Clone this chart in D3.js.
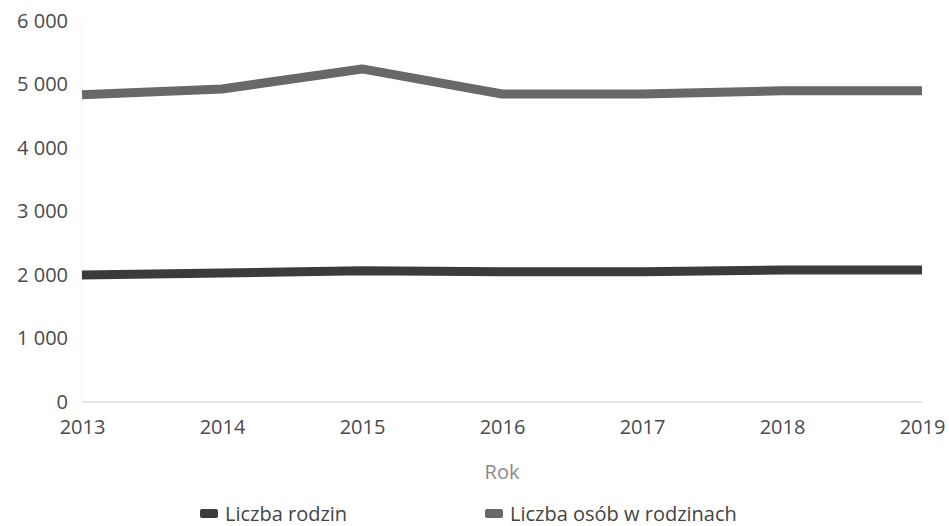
<!DOCTYPE html>
<html><head><meta charset="utf-8">
<script src="https://cdn.jsdelivr.net/npm/d3@7"></script>
<style>body{margin:0;background:#fff;} svg{display:block;font-family:"Open Sans",sans-serif;}</style>
</head><body><svg id="c" width="949" height="526"></svg>
<script>
const years = [2013, 2014, 2015, 2016, 2017, 2018, 2019];
const rodziny = [2000, 2030, 2065, 2050, 2050, 2080, 2080];
const osoby = [4840, 4930, 5245, 4850, 4850, 4900, 4900];
const yTicks = [0, 1000, 2000, 3000, 4000, 5000, 6000];
const seriesNames = ["Liczba rodzin", "Liczba osób w rodzinach"];
const colors = ["#3b3b3b", "#686868"];

const svg = d3.select("#c");
const x = d3.scalePoint().domain(years).range([82, 922]);
const y = d3.scaleLinear().domain([0, 6000]).range([402, 21]);
const fmt = v => d3.format(",")(v).replace(/,/g, " ");

// baseline
svg.append("line").attr("x1", 82).attr("x2", 922).attr("y1", y(0)).attr("y2", y(0))
  .attr("stroke", "#e6e6e6").attr("stroke-width", 2);
svg.append("line").attr("x1", 82).attr("x2", 82).attr("y1", y(0)).attr("y2", y(6000))
  .attr("stroke", "#f3f3f3").attr("stroke-width", 1);

const yAxis = svg.append("g").attr("transform", "translate(68,0)")
  .call(d3.axisLeft(y).tickValues(yTicks).tickFormat(fmt).tickSize(0).tickPadding(0));
yAxis.select(".domain").remove();
yAxis.selectAll("text").attr("font-size", 20).attr("fill", "#4a4a4a").attr("font-family", "Open Sans");

const xAxis = svg.append("g").attr("transform", "translate(0,420)")
  .call(d3.axisBottom(x).tickSize(0).tickPadding(0).tickFormat(d3.format("d")));
xAxis.select(".domain").remove();
xAxis.selectAll("text").attr("font-size", 20).attr("fill", "#4a4a4a").attr("font-family", "Open Sans");

svg.append("text").attr("x", 502).attr("y", 479).attr("text-anchor", "middle")
  .attr("font-size", 20).attr("fill", "#8a8a8a").text("Rok");

const line = d3.line().x((d, i) => x(years[i])).y(d => y(d));
[rodziny, osoby].forEach((s, k) => {
  svg.append("path").datum(s).attr("d", line).attr("fill", "none")
    .attr("stroke", colors[k]).attr("stroke-width", 9).attr("stroke-linejoin", "round");
});

const legX = [200, 485];
seriesNames.forEach((n, k) => {
  svg.append("rect").attr("x", legX[k]).attr("y", 509).attr("width", 18).attr("height", 9)
    .attr("rx", 2).attr("fill", colors[k]);
  svg.append("text").attr("x", legX[k] + 25).attr("y", 521).attr("font-size", 20)
    .attr("fill", "#444").text(n);
});
</script></body></html>
